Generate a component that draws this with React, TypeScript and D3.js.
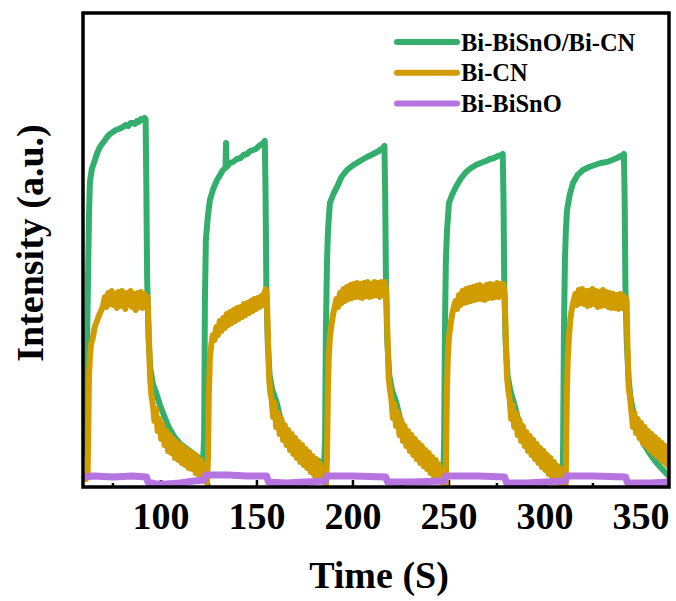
import React from "react";
import * as d3 from "d3";

type P = [number, number];

const xTicks = [100, 150, 200, 250, 300, 350];
const xMinorTicks = [75, 125, 175, 225, 275, 325];
const seriesNames = ["Bi-BiSnO/Bi-CN", "Bi-CN", "Bi-BiSnO"];
const seriesColors = ["#33AE6C", "#D09C00", "#B674E0"];
const xTitle = "Time (S)";
const yTitle = "Intensity (a.u.)";

// Bi-BiSnO/Bi-CN
const greenData: P[] = [
  [59.5,0.35],[60.4,0.38],[60.9,0.6],[61.4,1.3],[62.0,2.07],[62.5,2.7],[63.0,3.05],[64.0,3.18],[65.6,3.27],[67.0,3.35],[68.2,3.4],[70.5,3.46],[72.0,3.5],[73.4,3.53],[75.0,3.55],[76.5,3.57],[78.0,3.58],[80.2,3.6],[81.5,3.62],[83.0,3.61],[84.2,3.64],[85.4,3.64],[86.5,3.63],[87.5,3.66],[88.5,3.65],[89.5,3.68],[90.6,3.67],[91.4,3.69],[92.0,3.68],
  [92.4,3.0],[92.8,2.1],[93.5,1.5],[94.5,1.18],[95.8,1.03],[97.5,0.94],[99.5,0.82],[101.5,0.72],[104.0,0.6],[107.0,0.5],[110.0,0.43],[113.5,0.38],[117.0,0.33],[120.0,0.29],[122.0,0.27],
  [122.5,0.5],[122.9,1.87],[123.4,2.47],[124.5,2.72],[125.5,2.87],[127.2,2.98],[129.2,3.07],[130.8,3.12],[132.3,3.17],[133.6,3.19],[133.9,3.44],[134.2,3.2],[135.9,3.24],[137.5,3.25],[139.5,3.28],[141.5,3.29],[143.0,3.32],[144.8,3.33],[146.5,3.36],[148.0,3.37],[149.5,3.38],[151.0,3.41],[152.6,3.43],[153.6,3.45],[154.1,3.46],
  [154.5,2.9],[154.9,2.0],[155.6,1.45],[156.6,1.12],[158.0,0.97],[160.2,0.85],[162.0,0.7],[163.8,0.6],[167.2,0.47],[170.5,0.4],[174.0,0.34],[178.0,0.3],[182.0,0.26],[185.0,0.24],
  [185.5,0.5],[185.9,1.57],[186.5,2.27],[187.0,2.57],[188.0,2.84],[189.8,2.93],[191.7,3.0],[194.0,3.1],[196.9,3.17],[199.5,3.21],[202.0,3.24],[204.5,3.27],[207.3,3.3],[209.5,3.32],[211.5,3.34],[213.5,3.36],[215.6,3.39],[216.4,3.41],
  [216.8,2.9],[217.2,2.0],[217.9,1.45],[218.9,1.12],[220.3,0.97],[222.5,0.85],[224.3,0.7],[226.1,0.6],[229.5,0.47],[233.0,0.39],[237.0,0.32],[241.0,0.27],[245.0,0.22],[247.2,0.2],
  [247.5,0.5],[247.9,1.57],[248.4,2.27],[249.0,2.57],[250.0,2.84],[251.8,2.93],[253.6,3.0],[256.0,3.08],[258.9,3.15],[261.5,3.19],[264.0,3.22],[266.5,3.24],[269.3,3.26],[271.5,3.28],[273.5,3.29],[275.5,3.31],[277.6,3.32],[278.0,3.33],
  [278.4,2.9],[278.8,2.0],[279.5,1.45],[280.5,1.12],[281.9,0.97],[284.0,0.83],[286.0,0.68],[288.0,0.57],[291.5,0.44],[295.0,0.35],[299.0,0.27],[303.0,0.2],[307.0,0.14],[309.3,0.12],
  [309.5,0.5],[309.9,1.57],[310.4,2.27],[310.9,2.57],[311.5,2.77],[313.0,2.93],[314.6,3.04],[317.0,3.12],[319.8,3.17],[323.0,3.2],[326.0,3.22],[329.0,3.24],[332.3,3.25],[335.0,3.27],[337.5,3.29],[339.5,3.31],[340.6,3.32],[341.1,3.33],
  [341.5,2.9],[341.9,2.0],[342.6,1.45],[343.5,1.1],[344.5,0.9],[346.9,0.66],[349.0,0.53],[351.5,0.43],[354.0,0.35],[357.0,0.27],[360.0,0.2],[363.0,0.14],[364.6,0.11],
];

// Bi-CN
const goldData: P[] = [
  [59.5,0.1],[61.0,0.08],[61.8,0.1],[62.2,0.6],[62.5,1.1],[63.0,1.3],[63.6,1.43],[64.6,1.5],[65.5,1.6],[66.7,1.66],[67.8,1.72],[68.8,1.76],
  [69.8,1.81],[70.8,1.9],[71.6,1.8],[72.5,1.94],[73.4,1.83],[74.3,1.96],[75.2,1.82],[76.1,1.93],[77.0,1.79],[77.9,1.95],[78.8,1.81],[79.7,1.96],[80.6,1.83],[81.5,1.78],[82.4,1.94],[83.3,1.82],[84.2,1.96],[85.1,1.8],[86.0,1.93],[86.9,1.77],[87.8,1.94],[88.7,1.8],[89.6,1.95],[90.5,1.79],[91.4,1.93],[92.2,1.81],[93.0,1.9],
  [93.6,1.6],[94.3,1.1],[95.0,0.92],[95.8,0.82],[96.6,0.66],[97.4,0.78],[98.3,0.56],[99.2,0.68],[100.1,0.48],[101.0,0.62],[101.9,0.42],[102.8,0.56],[103.7,0.36],[104.6,0.52],[105.5,0.34],[106.4,0.48],[107.3,0.29],[108.2,0.45],[109.1,0.27],[110.0,0.42],[110.9,0.24],[111.8,0.4],[112.7,0.22],[113.6,0.37],[114.5,0.19],[115.4,0.35],[116.3,0.18],[117.2,0.33],[118.1,0.14],[119.0,0.3],[119.9,0.12],[120.8,0.27],[121.7,0.09],[122.6,0.22],[123.5,0.05],[124.0,0.04],
  [124.5,0.3],[124.9,0.9],[125.5,1.3],[126.2,1.42],[127.0,1.52],[127.9,1.47],[128.8,1.6],[129.7,1.52],[130.6,1.66],[131.5,1.56],[132.4,1.69],[133.3,1.59],[134.2,1.73],[135.1,1.62],[136.0,1.75],[136.9,1.64],[137.8,1.77],[138.7,1.66],[139.6,1.79],[140.5,1.68],[141.4,1.8],[142.3,1.7],[143.2,1.83],[144.1,1.72],[145.0,1.84],[145.9,1.74],[146.8,1.86],[147.7,1.76],[148.6,1.88],[149.5,1.78],[150.4,1.89],[151.3,1.8],[152.2,1.91],[153.1,1.82],[154.0,1.95],[154.6,1.98],[155.2,1.88],
  [155.7,1.5],[156.3,1.1],[156.9,0.95],[157.6,0.88],[158.4,0.7],[159.2,0.84],[160.0,0.6],[160.9,0.74],[161.8,0.53],[162.7,0.68],[163.6,0.47],[164.5,0.62],[165.4,0.42],[166.3,0.57],[167.2,0.37],[168.1,0.53],[169.0,0.33],[169.9,0.49],[170.8,0.29],[171.7,0.45],[172.6,0.25],[173.5,0.42],[174.4,0.22],[175.3,0.38],[176.2,0.19],[177.1,0.35],[178.0,0.15],[178.9,0.31],[179.8,0.12],[180.7,0.28],[181.6,0.1],[182.5,0.24],[183.4,0.07],[184.3,0.19],[185.2,0.04],[186.0,0.03],
  [186.5,0.3],[186.9,0.9],[187.4,1.3],[188.0,1.5],[188.8,1.62],[189.6,1.72],[190.5,1.8],[191.4,1.88],[192.3,1.8],[193.2,1.94],[194.1,1.84],[195.0,1.98],[195.9,1.86],[196.8,2.0],[197.7,1.88],[198.6,2.02],[199.5,1.89],[200.4,2.03],[201.3,1.9],[202.2,2.04],[203.1,1.9],[204.0,2.03],[204.9,1.89],[205.8,2.04],[206.7,1.91],[207.6,2.05],[208.5,1.9],[209.4,2.03],[210.3,1.91],[211.2,2.05],[212.1,1.92],[213.0,2.04],[213.9,1.9],[214.8,2.05],[215.7,1.92],[216.6,2.05],[217.4,1.94],
  [218.0,1.5],[218.6,1.1],[219.3,0.97],[220.0,0.88],[220.8,0.69],[221.6,0.83],[222.4,0.61],[223.3,0.75],[224.2,0.52],[225.1,0.67],[226.0,0.46],[226.9,0.61],[227.8,0.41],[228.7,0.56],[229.6,0.36],[230.5,0.52],[231.4,0.32],[232.3,0.48],[233.2,0.28],[234.1,0.44],[235.0,0.24],[235.9,0.41],[236.8,0.21],[237.7,0.37],[238.6,0.18],[239.5,0.34],[240.4,0.14],[241.3,0.3],[242.2,0.11],[243.1,0.27],[244.0,0.08],[244.9,0.22],[245.8,0.05],[246.7,0.17],[247.6,0.03],[248.4,0.03],
  [248.5,0.3],[248.9,0.9],[249.4,1.3],[250.0,1.5],[250.8,1.62],[251.6,1.72],[252.5,1.8],[253.4,1.86],[254.3,1.78],[255.2,1.92],[256.1,1.82],[257.0,1.96],[257.9,1.84],[258.8,1.98],[259.7,1.85],[260.6,1.99],[261.5,1.86],[262.4,2.0],[263.3,1.87],[264.2,2.01],[265.1,1.88],[266.0,2.02],[266.9,1.88],[267.8,2.0],[268.7,1.87],[269.6,2.02],[270.5,1.89],[271.4,2.03],[272.3,1.89],[273.2,2.02],[274.1,1.9],[275.0,2.04],[275.9,1.9],[276.8,2.03],[277.6,1.92],[278.2,2.03],[279.0,1.92],
  [279.6,1.5],[280.2,1.1],[280.9,0.97],[281.6,0.88],[282.4,0.68],[283.2,0.82],[284.0,0.6],[284.9,0.74],[285.8,0.52],[286.7,0.67],[287.6,0.46],[288.5,0.61],[289.4,0.41],[290.3,0.55],[291.2,0.36],[292.1,0.51],[293.0,0.32],[293.9,0.47],[294.8,0.28],[295.7,0.43],[296.6,0.24],[297.5,0.39],[298.4,0.2],[299.3,0.36],[300.2,0.17],[301.1,0.32],[302.0,0.13],[302.9,0.29],[303.8,0.1],[304.7,0.25],[305.6,0.07],[306.5,0.21],[307.4,0.04],[308.3,0.18],[309.2,0.03],[310.0,0.12],[310.8,0.03],
  [311.0,0.3],[311.4,0.9],[311.9,1.3],[312.5,1.5],[313.2,1.68],[314.0,1.78],[314.9,1.86],[315.8,1.93],[316.7,1.82],[317.6,1.97],[318.5,1.84],[319.4,1.98],[320.3,1.83],[321.2,1.96],[322.1,1.81],[323.0,1.96],[323.9,1.82],[324.8,1.98],[325.7,1.83],[326.6,1.96],[327.5,1.8],[328.4,1.95],[329.3,1.81],[330.2,1.97],[331.1,1.82],[332.0,1.95],[332.9,1.8],[333.8,1.94],[334.7,1.79],[335.6,1.93],[336.5,1.79],[337.4,1.92],[338.3,1.78],[339.2,1.93],[340.1,1.79],[341.0,1.91],[341.8,1.8],[342.5,1.88],
  [343.0,1.4],[343.6,1.0],[344.3,0.9],[345.0,0.76],[345.8,0.6],[346.6,0.74],[347.4,0.54],[348.3,0.68],[349.2,0.49],[350.1,0.64],[351.0,0.44],[351.9,0.6],[352.8,0.41],[353.7,0.56],[354.6,0.37],[355.5,0.53],[356.4,0.34],[357.3,0.5],[358.2,0.31],[359.1,0.47],[360.0,0.28],[360.9,0.44],[361.8,0.25],[362.7,0.41],[363.6,0.22],[364.5,0.36],
];

// Bi-BiSnO
const purpleData: P[] = [
  [59.5,0.1],[65,0.11],[75,0.1],[85,0.11],[92.5,0.1],[93.2,0.05],[97,0.03],[103,0.03],[110,0.04],[117,0.06],[122.5,0.07],[123.5,0.12],[135,0.12],[145,0.11],[155,0.11],[156,0.05],[165,0.04],[175,0.05],[185.5,0.06],[186.5,0.11],[200,0.11],[217,0.1],[218,0.05],[230,0.05],[247.5,0.06],[248.5,0.11],[265,0.11],[279,0.1],[280,0.04],[290,0.04],[300,0.05],[310.5,0.06],[311.5,0.11],[325,0.11],[342,0.1],[343,0.04],[355,0.04],[364.6,0.05],
];

const seriesData = [greenData, goldData, purpleData];
const seriesWidths = [6, 6, 7];

export default function App() {
  const W = 676, H = 601;
  const left = 83, right = 669, top = 13, bottom = 487;
  const x = d3.scaleLinear().domain([59.4, 364.6]).range([left, right]);
  const y = d3.scaleLinear().domain([0, 4.74]).range([bottom, top]);
  const line = d3.line<P>().x(d => x(d[0])).y(d => y(d[1]));
  const font = "'Liberation Serif', 'Times New Roman', 'DejaVu Serif', serif";

  return (
    <svg width={W} height={H} style={{ position: "absolute", left: 0, top: 0, background: "#fff" }}>
      <defs>
        <clipPath id="plotclip">
          <rect x={left} y={top} width={right - left} height={bottom - top} />
        </clipPath>
      </defs>
      <rect x={0} y={0} width={W} height={H} fill="#fff" />
      {xMinorTicks.map(t => (
        <line key={"m" + t} x1={x(t)} x2={x(t)} y1={bottom} y2={bottom - 4} stroke="#000" strokeWidth={2.5} />
      ))}
      {xTicks.map(t => (
        <line key={"M" + t} x1={x(t)} x2={x(t)} y1={bottom} y2={bottom - 7} stroke="#000" strokeWidth={2.5} />
      ))}
      <g clipPath="url(#plotclip)">
        {seriesData.map((d, i) => (
          <path key={i} d={line(d) || ""} fill="none" stroke={seriesColors[i]}
            strokeWidth={seriesWidths[i]} strokeLinejoin="round" strokeLinecap="round" />
        ))}
      </g>
      <rect x={left} y={top} width={right - left} height={bottom - top} fill="none" stroke="#000" strokeWidth={3.5} />
      {xTicks.map(t => (
        <text key={"l" + t} x={x(t)} y={529} textAnchor="middle" fontFamily={font} fontWeight="bold" fontSize={38} fill="#000">{t}</text>
      ))}
      <text x={379} y={588} textAnchor="middle" fontFamily={font} fontWeight="bold" fontSize={38} fill="#000">{xTitle}</text>
      <text transform="translate(43,243) rotate(-90)" textAnchor="middle" fontFamily={font} fontWeight="bold" fontSize={38} fill="#000">{yTitle}</text>
      {seriesNames.map((n, i) => {
        const ly = 42 + i * 30.7;
        return (
          <g key={n}>
            <line x1={397} x2={457} y1={ly} y2={ly} stroke={seriesColors[i]} strokeWidth={6} strokeLinecap="round" />
            <text x={461} y={ly + 8.7} fontFamily={font} fontWeight="bold" fontSize={24.5} fill="#000">{n}</text>
          </g>
        );
      })}
    </svg>
  );
}
